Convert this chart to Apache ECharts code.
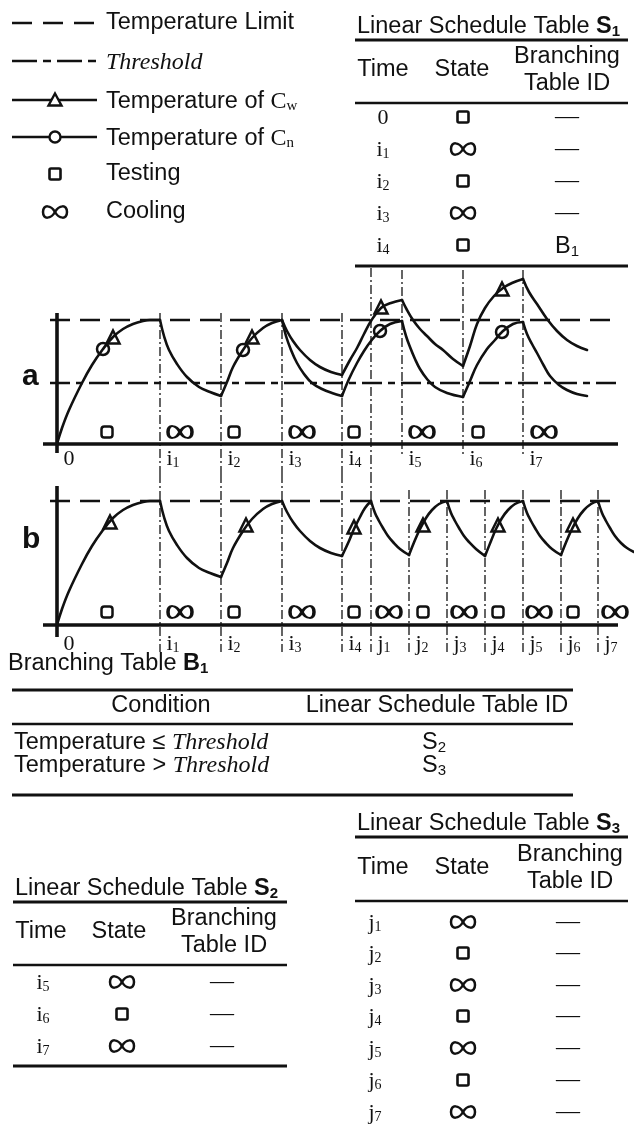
<!DOCTYPE html>
<html><head><meta charset="utf-8">
<script src="https://cdn.jsdelivr.net/npm/echarts@6/dist/echarts.min.js"></script>
<style>html,body{margin:0;padding:0;background:#fff;}#c{width:634px;height:1128px;}</style>
</head><body><div id="c"></div>
<script>
// ================= DATA =================
// time points (x units) of the schedule
const iTimes = [103, 164, 225, 285, 345, 406, 466];          // i1..i7
const jTimes = [314, 352, 390, 428, 466, 504, 541];          // j1..j7
const tickTimesA = [0, 103, 164, 225, 285, 345, 406, 466];
const tickLabelsA = ['0', 'i1', 'i2', 'i3', 'i4', 'i5', 'i6', 'i7'];
const tickTimesB = [0, 103, 164, 225, 285, 314, 352, 390, 428, 466, 504, 541];
const tickLabelsB = ['0', 'i1', 'i2', 'i3', 'i4', 'j1', 'j2', 'j3', 'j4', 'j5', 'j6', 'j7'];
const tempLimit = 124;
const thresholdValue = 61;

// (a) temperature of Cw, one segment per state interval
const cwA = [
  [[0,0],[5,16],[12,34],[25,61],[35,79],[46,95],[56,107],[66,115],[76,120],[86,123],[93,124],[103,124]],
  [[103,124],[107,108],[112,94],[120,80],[130,67],[142,57],[153,52],[164,48]],
  [[164,48],[170,62],[176,77],[186,94],[195,106],[206,116],[215,121],[225,124]],
  [[225,124],[230,113],[236,103],[243,94],[253,84],[263,77],[274,72],[285,69]],
  [[285,69],[293,84],[300,96],[307,110],[314,123],[324,136],[334,141],[345,144]],
  [[345,144],[350,134],[356,124],[363,115],[370,108],[378,100],[386,94],[396,85],[406,78]],
  [[406,78],[413,98],[420,120],[428,136],[437,148],[446,156],[455,161],[466,165]],
  [[466,165],[472,152],[480,140],[490,125],[500,113],[510,104],[520,98],[530,94]]
];
// (a) temperature of Cn after i3 (identical to Cw before)
const cnA = [
  [[225,124],[229,108],[234,94],[240,81],[247,70],[255,61],[265,55],[275,51],[285,48]],
  [[285,48],[292,65],[300,81],[307,93],[314,103],[323,113],[333,120],[345,123]],
  [[345,123],[349,108],[353,97],[358,85],[363,75],[370,65],[378,57],[390,51],[406,47]],
  [[406,47],[413,63],[420,79],[430,95],[438,104],[445,112],[456,120],[466,122]],
  [[466,122],[470,110],[475,100],[480,91],[487,78],[493,68],[502,59],[510,54],[520,50],[530,48]]
];
// (b) temperature of Cw
const cwB = [
  [[0,0],[5,16],[12,34],[25,61],[35,79],[46,95],[56,107],[66,115],[76,120],[86,123],[93,124],[103,124]],
  [[103,124],[107,108],[112,94],[120,80],[130,67],[142,57],[153,52],[164,48]],
  [[164,48],[170,62],[176,77],[186,94],[195,106],[206,116],[215,121],[225,124]],
  [[225,124],[230,113],[236,103],[243,94],[253,84],[263,77],[274,72],[285,69]],
  [[285,69],[292,84],[297,96],[303,108],[308,117],[314,124]],
  [[314,124],[318,112],[322,104],[326,97],[331,89],[336,83],[343,76],[352,70]],
  [[352,70],[358,85],[363,96],[369,107],[375,115],[382,121],[390,124]],
  [[390,124],[394,112],[398,104],[402,97],[407,89],[412,83],[419,76],[428,69]],
  [[428,69],[434,84],[439,96],[445,107],[451,115],[458,121],[466,124]],
  [[466,124],[470,112],[474,104],[478,97],[483,89],[488,83],[495,76],[504,70]],
  [[504,70],[510,85],[515,96],[521,107],[527,115],[534,121],[541,124]],
  [[541,124],[545,112],[549,104],[553,97],[558,89],[564,82],[570,77],[577,73]]
];
const triA = [[56,107],[195,107],[324,137],[445,155]];
const circA = [[46,95],[186,94],[323,113],[445,112]];
const triB = [[53,103],[189,100],[297,98],[366,100],[441,100],[516,100]];
const testA = [50, 177, 297, 421];
const coolA = [123, 245, 365, 487];
const testB = [50, 177, 297, 366, 441, 516];
const coolB = [123, 245, 332, 407, 482, 558];

// tables
const s1Time = ['0', 'i1', 'i2', 'i3', 'i4'];
const s1State = ['T', 'C', 'T', 'C', 'T'];
const s1Branch = ['—', '—', '—', '—', 'B1'];
const s2Time = ['i5', 'i6', 'i7'];
const s2State = ['C', 'T', 'C'];
const s2Branch = ['—', '—', '—'];
const s3Time = ['j1', 'j2', 'j3', 'j4', 'j5', 'j6', 'j7'];
const s3State = ['C', 'T', 'C', 'T', 'C', 'T', 'C'];
const s3Branch = ['—', '—', '—', '—', '—', '—', '—'];
const b1Cond = ['Temperature ≤ ', 'Temperature > '];
const b1Target = ['S2', 'S3'];

// ================= STYLE / LAYOUT =================
const INK = '#111';
const SANS = 'Liberation Sans, Arial, sans-serif';
const SERIF = 'Liberation Serif, Times New Roman, serif';
const FS = 23.5;
const INF_PATH = 'path://M12 7C8 0 0 -1 0 7C0 15 8 14 12 7C16 0 24 -1 24 7C24 15 16 14 12 7Z';

function mathText(s) {
  if (s.length === 1) return '{m|' + s + '}';
  return '{m|' + s[0] + '}{s|' + s.slice(1) + '}';
}
const richSeries = {
  m: {fontFamily: SERIF, fontSize: 22, lineHeight: 24, verticalAlign: 'bottom', color: INK},
  s: {fontFamily: SERIF, fontSize: 14, lineHeight: 10, verticalAlign: 'bottom', color: INK}
};
const richG = {
  m: {fontFamily: SERIF, fontSize: 22, lineHeight: 24, verticalAlign: 'bottom'},
  s: {fontFamily: SERIF, fontSize: 14, lineHeight: 10, verticalAlign: 'bottom'},
  t: {fontFamily: SANS, fontSize: FS, lineHeight: 28, verticalAlign: 'bottom'},
  tb: {fontFamily: SANS, fontSize: FS, fontWeight: 'bold', lineHeight: 28, verticalAlign: 'bottom'},
  ts: {fontFamily: SANS, fontSize: 15, lineHeight: 12, verticalAlign: 'bottom'},
  tbs: {fontFamily: SANS, fontSize: 15, fontWeight: 'bold', lineHeight: 12, verticalAlign: 'bottom'},
  c: {fontFamily: SERIF, fontSize: 24, lineHeight: 28, verticalAlign: 'bottom'},
  cs: {fontFamily: SERIF, fontSize: 15, lineHeight: 10, verticalAlign: 'bottom'},
  it: {fontFamily: SERIF, fontStyle: 'italic', fontSize: 24, lineHeight: 28, verticalAlign: 'bottom'}
};

const graphics = [];
function txt(x, y, text, align, extra) {
  graphics.push({type: 'text', x: x, y: y, silent: true, style: Object.assign({
    text: text, fill: INK, fontFamily: SANS, fontSize: FS,
    align: align || 'left', verticalAlign: 'middle',
    textAlign: align || 'left', textVerticalAlign: 'middle', rich: richG
  }, extra || {})});
}
function hline(x1, x2, y, w) {
  graphics.push({type: 'line', silent: true, shape: {x1: x1, y1: y, x2: x2, y2: y},
    style: {stroke: INK, lineWidth: w || 3, lineDash: null}});
}
function dline(x1, x2, y, dash) {
  graphics.push({type: 'line', silent: true, shape: {x1: x1, y1: y, x2: x2, y2: y},
    style: {stroke: INK, lineWidth: 2.6, lineDash: dash}});
}
function squareG(cx, cy) {
  graphics.push({type: 'rect', silent: true, shape: {x: cx - 5.5, y: cy - 5.5, width: 11, height: 11, r: 1.5},
    style: {stroke: INK, lineWidth: 2.6, fill: 'none'}});
}
function infG(cx, cy) {
  const segs = [
    [cx, cy, cx - 4, cy - 7, cx - 12, cy - 8, cx - 12, cy],
    [cx - 12, cy, cx - 12, cy + 8, cx - 4, cy + 7, cx, cy],
    [cx, cy, cx + 4, cy - 7, cx + 12, cy - 8, cx + 12, cy],
    [cx + 12, cy, cx + 12, cy + 8, cx + 4, cy + 7, cx, cy]
  ];
  segs.forEach(function (s) {
    graphics.push({type: 'bezierCurve', silent: true,
      shape: {x1: s[0], y1: s[1], cpx1: s[2], cpy1: s[3], cpx2: s[4], cpy2: s[5], x2: s[6], y2: s[7]},
      style: {stroke: INK, lineWidth: 2.5, fill: 'none'}});
  });
}
function stateG(code, cx, cy) { if (code === 'T') squareG(cx, cy); else infG(cx, cy); }
function subSans(s) { return s.length === 1 ? '{t|' + s + '}' : '{t|' + s[0] + '}{ts|' + s.slice(1) + '}'; }

// ---- legend ----
const legendY = [23, 61, 100, 137, 174, 212];
dline(12, 97, legendY[0], [20, 11]);
txt(106, legendY[0], 'Temperature Limit');
dline(12, 97, legendY[1], [25, 6, 8, 6]);
txt(106, legendY[1], '{it|Threshold}');
hline(12, 97, legendY[2], 2.4);
graphics.push({type: 'polygon', silent: true, shape: {points: [[55, 93.5], [61.5, 105.5], [48.5, 105.5]]},
  style: {stroke: INK, lineWidth: 2.4, fill: '#fff'}});
txt(106, legendY[2], '{t|Temperature of }{c|C}{cs|w}');
hline(12, 97, legendY[3], 2.4);
graphics.push({type: 'circle', silent: true, shape: {cx: 55, cy: legendY[3], r: 5.5},
  style: {stroke: INK, lineWidth: 2.4, fill: '#fff'}});
txt(106, legendY[3], '{t|Temperature of }{c|C}{cs|n}');
squareG(55, legendY[4]);
txt(106, legendY[4], 'Testing');
infG(55, legendY[5]);
txt(106, legendY[5], 'Cooling');

// ---- schedule tables ----
function scheduleTable(title, left, right, titleY, colX, headY, rowY, times, states, branches, bottomRule) {
  txt(left + 2, titleY, '{t|Linear Schedule Table }{tb|S}{tbs|' + title + '}');
  hline(left, right, titleY + 15, 3);
  txt(colX[0], headY, 'Time', 'center');
  txt(colX[1], headY, 'State', 'center');
  txt(colX[2], headY - 13, 'Branching', 'center');
  txt(colX[2], headY + 14, 'Table ID', 'center');
  hline(left, right, headY + 33, 2.6);
  times.forEach(function (t, k) {
    txt(colX[3], rowY[k], mathText(t), 'center');
    stateG(states[k], colX[4], rowY[k]);
    if (branches[k] === '—') txt(colX[5], rowY[k], '—', 'center', {fontFamily: SERIF, fontSize: 24});
    else txt(colX[5], rowY[k], subSans(branches[k]), 'center');
  });
  if (bottomRule) hline(left, right, bottomRule, 3);
}
scheduleTable('1', 355, 628, 25, [383, 462, 567, 383, 463, 567], 70, [117, 149, 181, 213, 245],
  s1Time, s1State, s1Branch, 266);
scheduleTable('2', 13, 287, 887, [41, 119, 224, 43, 122, 222], 932, [982, 1014, 1046],
  s2Time, s2State, s2Branch, 1066);
scheduleTable('3', 355, 628, 822, [383, 462, 570, 375, 463, 568], 868, [922, 953, 985, 1016, 1048, 1080, 1112],
  s3Time, s3State, s3Branch, null);

// ---- branching table ----
txt(8, 662, '{t|Branching Table }{tb|B}{tbs|1}');
hline(12, 573, 690, 3);
txt(161, 706, 'Condition', 'center');
txt(437, 706, 'Linear Schedule Table ID', 'center');
hline(12, 573, 724, 2.6);
b1Cond.forEach(function (c, k) {
  const y = [741, 764][k];
  txt(14, y, '{t|' + c + '}{it|Threshold}');
  txt(434, y, subSans(b1Target[k]), 'center');
});
hline(12, 573, 795, 3);

// panel letters
txt(22, 377, 'a', 'left', {fontWeight: 'bold', fontSize: 30});
txt(22, 540, 'b', 'left', {fontWeight: 'bold', fontSize: 30});

// ================= SERIES =================
const series = [];
const VDASH = [9, 3, 2, 3];
function lineSeries(g, data, ls, z) {
  series.push({type: 'line', xAxisIndex: g, yAxisIndex: g, data: data, symbol: 'none', silent: true,
    smooth: 0.4, animation: false, z: z || 3,
    lineStyle: Object.assign({color: INK, width: 2.6, cap: 'round', join: 'round', opacity: 1}, ls || {})});
}
function straight(g, data, ls, z) {
  series.push({type: 'line', xAxisIndex: g, yAxisIndex: g, data: data, symbol: 'none', silent: true,
    animation: false, z: z || 2, lineStyle: Object.assign({color: INK, width: 1.3, opacity: 1}, ls || {})});
}
// vertical schedule lines
[0, 1, 2, 3].forEach(function (k) { straight(0, [[iTimes[k], 131], [iTimes[k], -30]], {type: VDASH}); });
straight(0, [[jTimes[0], 176], [jTimes[0], -30]], {type: VDASH});
[4, 5, 6].forEach(function (k) { straight(0, [[iTimes[k], 174], [iTimes[k], -13]], {type: VDASH}); });
[0, 1, 2, 3].forEach(function (k) { straight(1, [[iTimes[k], 151], [iTimes[k], -27]], {type: VDASH}); });
straight(1, [[jTimes[0], 151], [jTimes[0], -27]], {type: VDASH});
[1, 2, 3, 4, 5, 6].forEach(function (k) { straight(1, [[jTimes[k], 135], [jTimes[k], -27]], {type: VDASH}); });

// axes
straight(0, [[-14, 0], [561, 0]], {width: 3.6}, 4);
straight(0, [[0, -9], [0, 131]], {width: 3.6}, 4);
straight(1, [[-14, 0], [561, 0]], {width: 3.6}, 4);
straight(1, [[0, -12], [0, 139]], {width: 3.6}, 4);
// limit & threshold
straight(0, [[-7, tempLimit], [561, tempLimit]], {width: 2.6, type: [20, 10]}, 3);
straight(0, [[-7, thresholdValue], [561, thresholdValue]], {width: 2.6, type: [20, 6, 7, 6]}, 3);
straight(1, [[-7, tempLimit], [561, tempLimit]], {width: 2.6, type: [20, 10]}, 3);

cwA.forEach(function (s) { lineSeries(0, s); });
cnA.forEach(function (s) { lineSeries(0, s); });
cwB.forEach(function (s) { lineSeries(1, s); });

function markers(g, data, symbol, size) {
  series.push({type: 'scatter', xAxisIndex: g, yAxisIndex: g, data: data, symbol: symbol, symbolSize: size,
    silent: true, animation: false, z: 6,
    itemStyle: {color: 'rgba(255,255,255,0)', borderColor: INK, borderWidth: 2.5, opacity: 1}});
}
markers(0, triA, 'triangle', 13);
markers(0, circA, 'circle', 12);
markers(1, triB, 'triangle', 13);
markers(0, testA.map(function (t) { return [t, 12]; }), 'roundRect', 11);
markers(0, coolA.map(function (t) { return [t, 12]; }), INF_PATH, [24, 12]);
markers(1, testB.map(function (t) { return [t, 13]; }), 'roundRect', 11);
markers(1, coolB.map(function (t) { return [t, 13]; }), INF_PATH, [24, 12]);

function tickLabels(g, times, labels, y) {
  series.push({type: 'scatter', xAxisIndex: g, yAxisIndex: g, symbol: 'circle', symbolSize: 1,
    silent: true, animation: false, z: 7, itemStyle: {color: 'rgba(0,0,0,0)', opacity: 1},
    data: times.map(function (t, k) { return {value: [t, y], name: labels[k]}; }),
    label: {show: true, position: 'right', distance: 6, color: INK, opacity: 1,
      formatter: function (p) { return mathText(p.name); }, rich: richSeries}});
}
tickLabels(0, tickTimesA, tickLabelsA, -14);
tickLabels(1, tickTimesB, tickLabelsB, -18);

const chart = echarts.init(document.getElementById('c'));
chart.setOption({
  animation: false,
  backgroundColor: '#fff',
  grid: [
    {left: 43, width: 591, top: 268, height: 206},
    {left: 43, width: 591, top: 474, height: 181}
  ],
  xAxis: [
    {type: 'value', gridIndex: 0, min: -14, max: 577, show: false},
    {type: 'value', gridIndex: 1, min: -14, max: 577, show: false}
  ],
  yAxis: [
    {type: 'value', gridIndex: 0, min: -30, max: 176, show: false},
    {type: 'value', gridIndex: 1, min: -30, max: 151, show: false}
  ],
  graphic: {elements: graphics},
  series: series
});
</script>
</body></html>
